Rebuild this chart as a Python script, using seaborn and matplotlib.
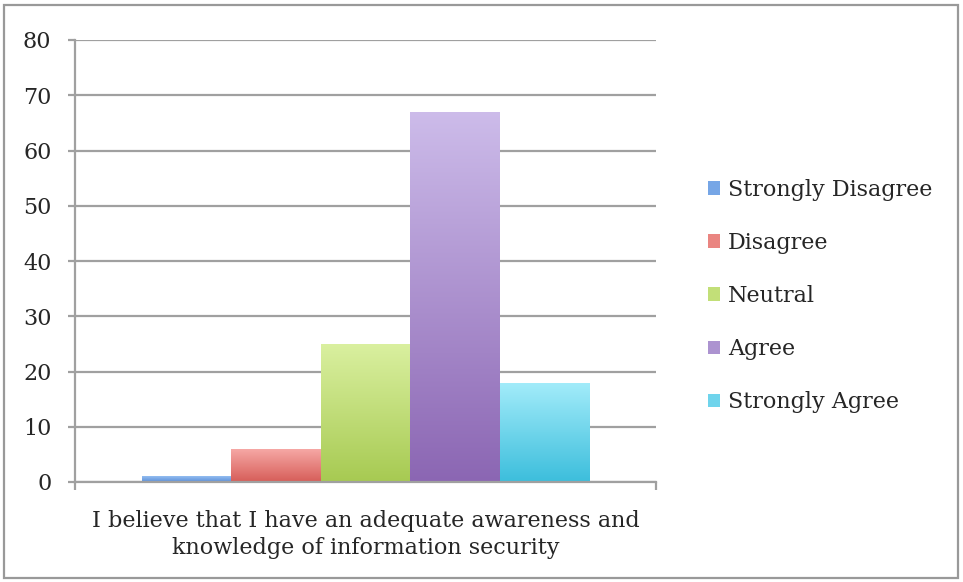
import matplotlib
matplotlib.use("Agg")
import matplotlib.pyplot as plt
import matplotlib.patches as mpatches
from matplotlib.colors import LinearSegmentedColormap
import numpy as np
import pandas as pd
import seaborn as sns

question = ["I believe that I have an adequate awareness and\nknowledge of information security"]
responses = ["Strongly Disagree", "Disagree", "Neutral", "Agree", "Strongly Agree"]
counts = [1, 6, 25, 67, 18]
y_ticks = [0, 10, 20, 30, 40, 50, 60, 70, 80]

top_colors = ["#93bdf0", "#f7aaa7", "#daf0a0", "#cdbcea", "#a3ecfa"]
bottom_colors = ["#5b8fd9", "#d65d58", "#a7ca52", "#8b66b3", "#3cbedc"]
mid_colors = ["#76a6e6", "#ea8581", "#c2df78", "#ac93d0", "#6fd4ec"]

df = pd.DataFrame({"question": question * len(responses),
                   "response": responses,
                   "count": counts})

sns.set_theme(style="white")
plt.rcParams["font.family"] = ["DejaVu Serif"]

fig = plt.figure(figsize=(9.63, 5.82), dpi=100)
ax = fig.add_axes([75/963, 1-482/582, (656-75)/963, (482-40)/582])

sns.barplot(data=df, x="question", y="count", hue="response",
            hue_order=responses, palette=mid_colors, width=0.77,
            ax=ax, legend=False, saturation=1, linewidth=0)

# gradient fill clipped to each bar
for patch, tc, bc in zip(ax.patches, top_colors, bottom_colors):
    x0, y0 = patch.get_x(), patch.get_y()
    w, h = patch.get_width(), patch.get_height()
    cmap = LinearSegmentedColormap.from_list("g", [bc, tc])
    grad = np.linspace(0, 1, 256).reshape(-1, 1)
    im = ax.imshow(grad, cmap=cmap, aspect="auto", origin="lower",
                   extent=[x0, x0 + w, y0, y0 + h], zorder=patch.get_zorder())
    im.set_clip_path(patch)
    patch.set_facecolor("none")

ax.set_xlim(-0.5, 0.5)
ax.set_ylim(0, 80)
ax.set_yticks(y_ticks)
ax.set_yticklabels([str(t) for t in y_ticks], fontsize=16)
ax.yaxis.grid(True, color="#a0a0a0", linewidth=1.6)
ax.set_axisbelow(True)
ax.set_xlabel("")
ax.set_ylabel("")
ax.tick_params(axis="y", length=5, width=1.6, color="#a0a0a0", pad=12, left=True)
ax.tick_params(axis="x", which="major", length=0, pad=20, labelsize=16)
for lbl in ax.get_xticklabels():
    lbl.set_linespacing(1.3)
ax.set_xticks([-0.5, 0.5], minor=True)
ax.tick_params(axis="x", which="minor", length=6, width=1.6, color="#a0a0a0", bottom=True)

for s in ["top", "right"]:
    ax.spines[s].set_visible(False)
for s in ["left", "bottom"]:
    ax.spines[s].set_color("#a0a0a0")
    ax.spines[s].set_linewidth(1.6)

handles = [mpatches.Patch(facecolor=c, edgecolor="none", label=r)
           for c, r in zip(mid_colors, responses)]
fig.legend(handles=handles, loc="center left", bbox_to_anchor=(688/963, 1-296/582),
           frameon=False, fontsize=16, handlelength=0.55, handleheight=0.55,
           handletextpad=0.36, labelspacing=1.4)

fig.patches.append(mpatches.Rectangle((4/963, 4/582), 954/963, 573/582,
                                      transform=fig.transFigure, fill=False,
                                      edgecolor="#999999", linewidth=1.6))

fig.savefig("out.png", dpi=100, facecolor="white")
